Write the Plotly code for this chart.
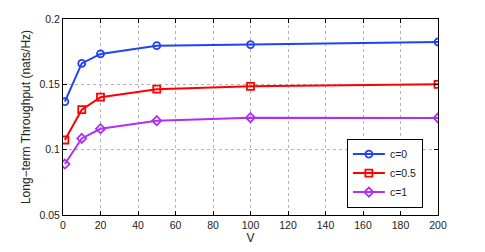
import plotly.graph_objects as go

V = [1, 10, 20, 50, 100, 200]
c0 = [0.1368, 0.1660, 0.1733, 0.1796, 0.1804, 0.1824]
c05 = [0.1074, 0.1306, 0.1402, 0.1463, 0.1485, 0.1500]
c1 = [0.0890, 0.1086, 0.1160, 0.1222, 0.1245, 0.1243]
names = ["c=0", "c=0.5", "c=1"]
x_ticks = [0, 20, 40, 60, 80, 100, 120, 140, 160, 180, 200]
y_ticks = [0.05, 0.1, 0.15, 0.2]
y_tick_text = ["0.05", "0.1", "0.15", "0.2"]

colors = ["#1f44f0", "#ff0000", "#b030f0"]
symbols = ["circle-open", "square-open", "diamond-open"]

fig = go.Figure()
for ys, nm, col, sym in zip([c0, c05, c1], names, colors, symbols):
    fig.add_trace(go.Scatter(
        x=V, y=ys, name=nm, mode="lines+markers",
        line=dict(color=col, width=2),
        marker=dict(symbol=sym, size=7, color=col, line=dict(width=1.8, color=col)),
    ))

axis_common = dict(
    showgrid=True, gridcolor="#b4b4b4", griddash="dot", gridwidth=1,
    showline=True, linecolor="#000000", linewidth=1, mirror="ticks",
    ticks="inside", ticklen=4, tickcolor="#000000",
    zeroline=False,
    tickfont=dict(family="Liberation Sans, Arial, sans-serif", size=10.5, color="#222222"),
)

fig.update_layout(
    width=485, height=252,
    margin=dict(l=63, r=47, t=19, b=30),
    paper_bgcolor="white", plot_bgcolor="white",
    font=dict(family="Liberation Sans, Arial, sans-serif", size=11, color="#222222"),
    xaxis=dict(range=[0, 200], tickvals=x_ticks,
               title=dict(text="V", standoff=1, font=dict(size=12)), **axis_common),
    yaxis=dict(range=[0.05, 0.2], tickvals=y_ticks, ticktext=y_tick_text,
               title=dict(text="Long\u2212term Throughput (nats/Hz)", standoff=6, font=dict(size=12)),
               **axis_common),
    legend=dict(x=0.757, y=0.39, xanchor="left", yanchor="top",
                bordercolor="#000000", borderwidth=1, bgcolor="white",
                font=dict(size=10.5), tracegroupgap=0, itemwidth=32),
    showlegend=True,
)

fig.write_html("out.html", config={"displayModeBar": False},
               post_script="document.body.style.margin='0';document.body.style.overflow='hidden';")
